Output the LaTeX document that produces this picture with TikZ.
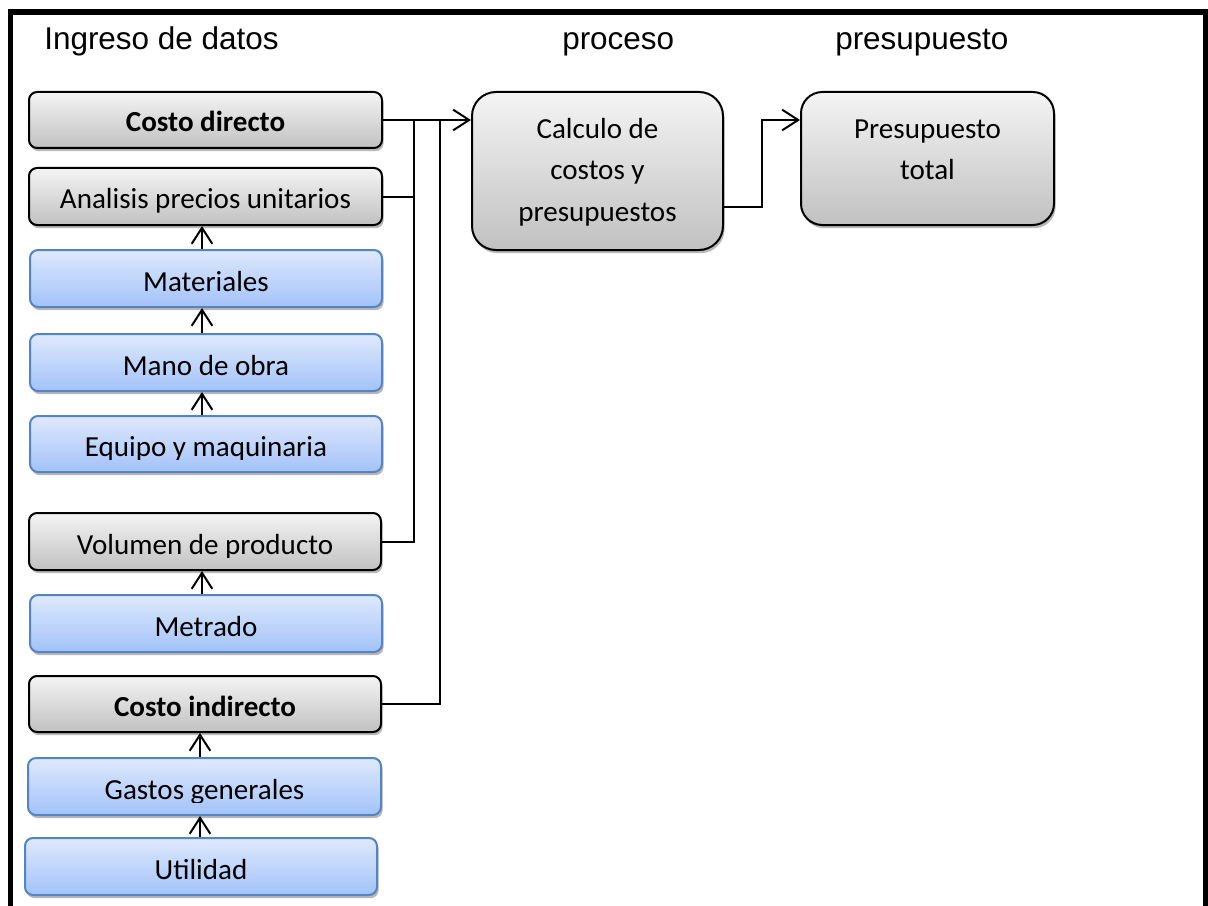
\documentclass[tikz,border=0pt]{standalone}
\usepackage{fontspec}
\setmainfont{Carlito}
\newfontfamily\arialf{Liberation Sans}
\usetikzlibrary{arrows.meta,shadows,fit}
\definecolor{gtop}{HTML}{F4F4F4}
\definecolor{gbot}{HTML}{C1C1C1}
\definecolor{btop}{HTML}{DEE9FD}
\definecolor{bbot}{HTML}{A3C2F8}
\definecolor{bline}{HTML}{5484C4}
\tikzset{
  x=0.75pt, y=-0.75pt,
  shad/.style={drop shadow={shadow xshift=1.2pt, shadow yshift=-2.4pt, opacity=0.28, fill=black}},
  graybox/.style={draw=black, line width=1.5pt, rounded corners=6pt, top color=gtop, bottom color=gbot, shad, inner sep=0pt},
  bluebox/.style={draw=bline, line width=1.5pt, rounded corners=6pt, top color=btop, bottom color=bbot, shad, inner sep=0pt},
  btxt/.style={font=\fontsize{21.8}{26}\selectfont, inner sep=0pt, anchor=base},
  htxt/.style={font=\arialf\fontsize{23.6}{28}\selectfont, inner sep=0pt, anchor=base west},
  conn/.style={line width=1.5pt, draw=black},
  arr/.style={conn, -{Straight Barb[length=12pt, width=15.5pt, line width=1.5pt]}},
}
% name, style, x1, y1, x2, y2, baseline, text
\newcommand\mybx[8]{%
  \node[#2, fit={(#3,#4) (#5,#6)}] (#1) {};
  \begin{scope}
    \clip (#3,#4) rectangle (#5,#6-13);
    \node[btxt] (#1t) at (#1.center |- 0,#7) {#8};
  \end{scope}
}
\begin{document}
\begin{tikzpicture}
\useasboundingbox (0,0) rectangle (1208,906);
\clip (0,0) rectangle (1208,906);
\fill[white] (0,0) rectangle (1208,906);
% frame
\draw[line width=3.8pt] (10.5,930) -- (10.5,12) -- (1206,12) -- (1206,930);
% headers
\node[htxt] (h1) at (44,50) {Ingreso de datos};
\node[htxt] (h2) at (562,50) {proceso};
\node[htxt] (h3) at (835,50) {presupuesto};
% left column
\mybx{cd}{graybox}{29}{92}{382}{148}{132}{\textbf{Costo directo}}
\mybx{apu}{graybox}{29}{168}{382}{225}{209}{Analisis precios unitarios}
\mybx{mat}{bluebox}{30}{250}{382}{307}{291}{Materiales}
\mybx{mo}{bluebox}{30}{334}{382}{391}{375}{Mano de obra}
\mybx{eq}{bluebox}{30}{416}{382}{472}{456}{Equipo y maquinaria}
\mybx{vol}{graybox}{29}{513}{381}{570}{554}{Volumen de producto}
\mybx{met}{bluebox}{30}{595}{382}{652}{636}{Metrado}
\mybx{ci}{graybox}{29}{676}{381}{732}{716}{\textbf{Costo indirecto}}
\mybx{gg}{bluebox}{28}{758}{381}{815}{799}{Gastos generales}
\mybx{ut}{bluebox}{25}{838}{377}{895}{879}{Utilidad}
% process and result
\node[graybox, rounded corners=18pt, fit={(472,92) (723,250)}] (calc) {};
\node[btxt, anchor=base, align=center] (calct) at (calc.center |- 0,221)
  {Calculo de\\[5pt]costos y\\[5pt]presupuestos};
\node[graybox, rounded corners=16pt, fit={(801,92) (1054,225)}] (pt) {};
\node[btxt, anchor=base, align=center] (ptt) at (pt.center |- 0,180)
  {Presupuesto\\[5pt]total};
% vertical arrows
\coordinate (va) at (202,0);
\coordinate (vb) at (200,0);
\draw[arr] (mat.north -| va) -- (apu.south -| va);
\draw[arr] (mo.north -| va) -- (mat.south -| va);
\draw[arr] (eq.north -| va) -- (mo.south -| va);
\draw[arr] (met.north -| va) -- (vol.south -| va);
\draw[arr] (gg.north -| vb) -- (ci.south -| vb);
\draw[arr] (ut.north -| vb) -- (gg.south -| vb);
% junctions
\coordinate (j1) at (414,0);
\coordinate (j2) at (440,0);
\coordinate (jr) at (762,0);
\draw[arr] (cd.east) -- (cd.east -| calc.west);
\draw[conn] (apu.east) -- (apu.east -| j1);
\draw[conn] (vol.east) -| (j1 |- cd.east);
\draw[conn] (ci.east) -| (j2 |- cd.east);
\coordinate (co) at (calc.east |- 0,207);
\draw[arr] (co) -| (jr |- cd.east) -- (cd.east -| pt.west);
\end{tikzpicture}
\end{document}
